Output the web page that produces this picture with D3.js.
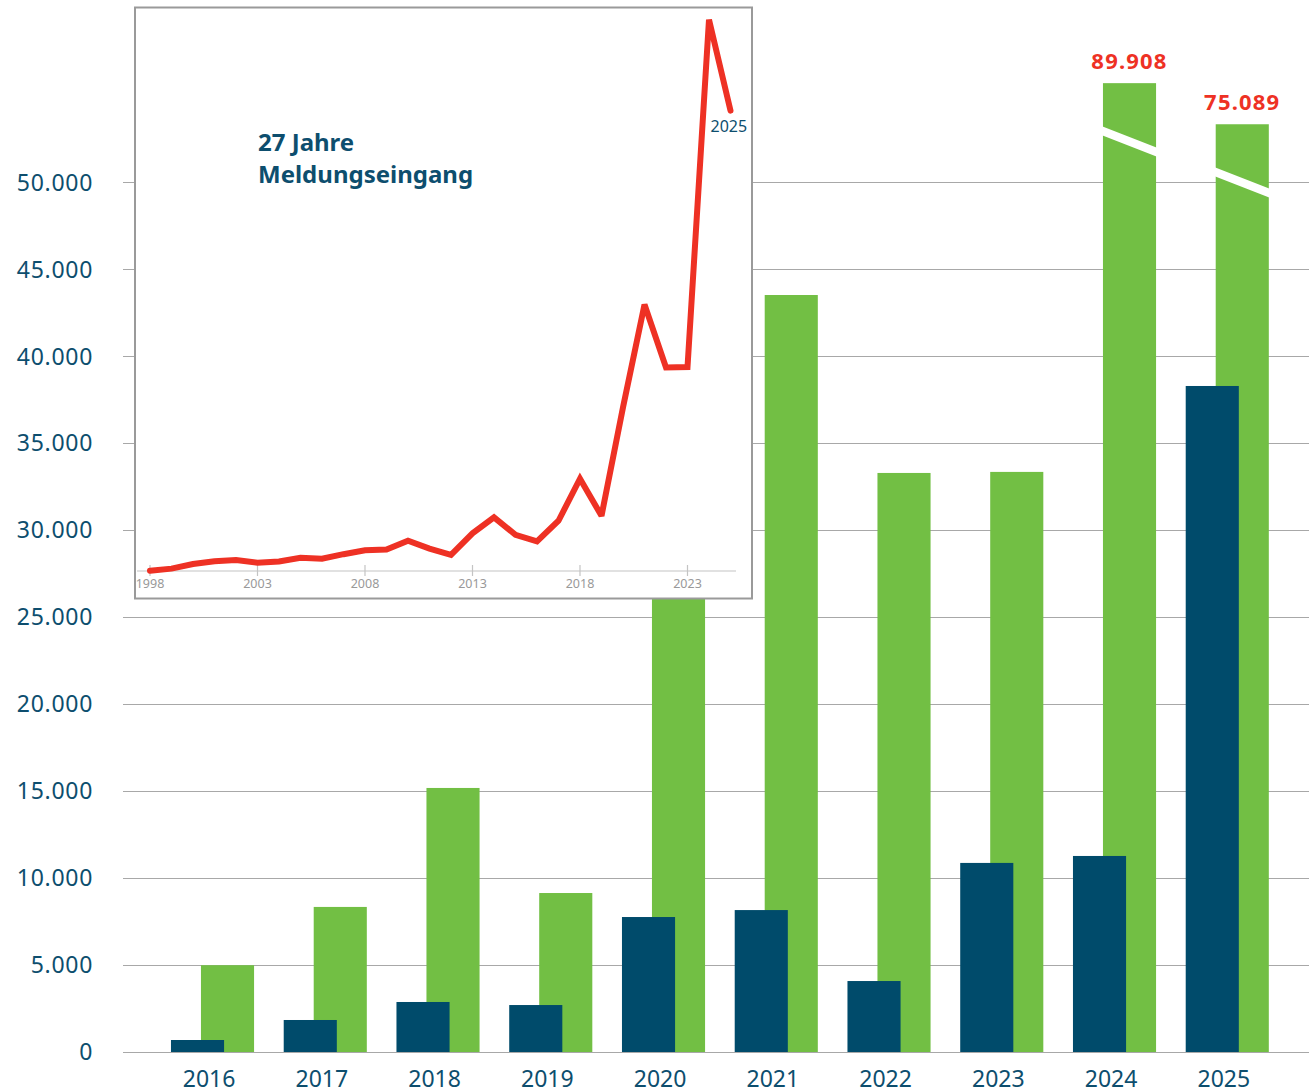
<!DOCTYPE html>
<html>
<head>
<meta charset="utf-8">
<script src="https://cdn.jsdelivr.net/npm/d3@7"></script>
<style>
  html, body { margin: 0; padding: 0; background: #fff; }
  svg { display: block; }
</style>
</head>
<body>
<svg id="chart" width="1309" height="1092"></svg>
<script>
// ---------- data ----------
const years = [2016, 2017, 2018, 2019, 2020, 2021, 2022, 2023, 2024, 2025];
const darkValues = [690, 1840, 2875, 2700, 7760, 8160, 4080, 10870, 11270, 38290];
const greenValues = [4990, 8340, 15180, 9140, 26800, 43520, 33290, 33350, 89908, 75089];
const yTicks = [0, 5000, 10000, 15000, 20000, 25000, 30000, 35000, 40000, 45000, 50000];
const brokenYears = [2024, 2025];

const insetYears = d3.range(1998, 2026);
const insetValues = [200, 550, 1300, 1750, 1950, 1500, 1700, 2300, 2150, 2900,
                     3550, 3650, 5100, 3800, 2800, 6300, 8900, 6050, 4990, 8340,
                     15180, 9140, 26800, 43520, 33290, 33350, 89908, 75089];
const insetTicks = [1998, 2003, 2008, 2013, 2018, 2023];
const insetTitle = ["27 Jahre", "Meldungseingang"];
const insetEndLabel = "2025";

// ---------- styles ----------
const C_DARK = "#004B6B", C_GREEN = "#72BF44", C_RED = "#EE3124",
      C_TEXT = "#0D4E6E", C_GRID = "#A8A8A8";
const FONT = "'Noto Sans', 'Open Sans', sans-serif";

const de = d3.formatLocale({decimal: ",", thousands: ".", grouping: [3], currency: ["", "€"]});
const fmt = de.format(",");

const svg = d3.select("#chart");

// ---------- main scales ----------
const x = d3.scaleBand().domain(years).range([152.7, 1280.2]).padding(0);
const bw = x.bandwidth();
const barW = bw * 0.471;
const darkOff = bw * 0.162;
const greenOff = bw * 0.428;
// broken axis: linear up to 50.000, compressed above
const y = d3.scaleLinear().domain([0, 50000, 75000, 90000]).range([1052, 182.3, 124.5, 82.9]);

// gridlines + y labels
const grid = svg.append("g");
grid.selectAll("line").data(yTicks).join("line")
  .attr("x1", 123).attr("x2", 1309)
  .attr("y1", d => Math.round(y(d)) + 0.5).attr("y2", d => Math.round(y(d)) + 0.5)
  .attr("stroke", C_GRID).attr("stroke-width", 1.2);
grid.selectAll("text").data(yTicks).join("text")
  .attr("x", 93).attr("y", d => y(d)).attr("dy", "0.36em")
  .attr("text-anchor", "end")
  .style("font-family", FONT).style("font-size", "23px").style("letter-spacing", "0.7px")
  .attr("fill", C_TEXT).text(d => fmt(d));

// green bars
svg.append("g").selectAll("rect").data(years).join("rect")
  .attr("x", (d) => x(d) + greenOff).attr("width", barW)
  .attr("y", (d, i) => y(greenValues[i]))
  .attr("height", (d, i) => y(0) - y(greenValues[i]))
  .attr("fill", C_GREEN);

// dark bars
svg.append("g").selectAll("rect").data(years).join("rect")
  .attr("x", (d) => x(d) + darkOff).attr("width", barW)
  .attr("y", (d, i) => y(darkValues[i]))
  .attr("height", (d, i) => y(0) - y(darkValues[i]))
  .attr("fill", C_DARK);

// break marks on broken bars
const brk = svg.append("g");
brokenYears.forEach(yr => {
  const i = years.indexOf(yr);
  const top = y(greenValues[i]);
  const x0 = x(yr) + greenOff - 1, x1 = x(yr) + greenOff + barW + 1;
  brk.append("polygon")
    .attr("points", [[x0, top + 43], [x1, top + 64.5], [x1, top + 73.5], [x0, top + 52]].map(p => p.join(",")).join(" "))
    .attr("fill", "#fff");
  brk.append("text")
    .attr("x", x(yr) + greenOff + barW / 2).attr("y", top - 14.5)
    .attr("text-anchor", "middle")
    .style("font-family", FONT).style("font-size", "22px").style("font-weight", "700")
    .style("letter-spacing", "1.2px")
    .attr("fill", C_RED).text(fmt(greenValues[i]));
});

// x labels
svg.append("g").selectAll("text").data(years).join("text")
  .attr("x", d => x(d) + bw / 2).attr("y", 1086.5)
  .attr("text-anchor", "middle")
  .style("font-family", FONT).style("font-size", "23px")
  .attr("fill", C_TEXT).text(d => d);

// ---------- inset ----------
const inset = svg.append("g");
inset.append("rect")
  .attr("x", 135).attr("y", 7.5).attr("width", 617).attr("height", 591)
  .attr("fill", "#fff").attr("stroke", "#9A9A9A").attr("stroke-width", 2);

const ix = d3.scaleLinear().domain([1998, 2025]).range([150, 730.5]);
const iy = d3.scaleLinear().domain([0, 90000]).range([572, 19]);

inset.append("line")
  .attr("x1", 137).attr("x2", 736).attr("y1", 571).attr("y2", 571)
  .attr("stroke", "#C4C4C4").attr("stroke-width", 1.2);
inset.selectAll(".tk").data(insetTicks).join("line").attr("class", "tk")
  .attr("x1", d => ix(d)).attr("x2", d => ix(d)).attr("y1", 565).attr("y2", 576)
  .attr("stroke", "#C4C4C4").attr("stroke-width", 1.2);
inset.selectAll(".tl").data(insetTicks).join("text").attr("class", "tl")
  .attr("x", d => ix(d)).attr("y", 588)
  .attr("text-anchor", "middle")
  .style("font-family", FONT).style("font-size", "12.5px")
  .attr("fill", "#999").text(d => d);

inset.append("path")
  .datum(insetValues)
  .attr("d", d3.line().x((d, i) => ix(insetYears[i])).y(d => iy(d)))
  .attr("fill", "none").attr("stroke", C_RED).attr("stroke-width", 6)
  .attr("stroke-linejoin", "miter").attr("stroke-miterlimit", 2.5).attr("stroke-linecap", "round");

inset.append("text")
  .attr("x", ix(2025) - 20).attr("y", 131.5)
  .style("font-family", FONT).style("font-size", "16px")
  .attr("fill", C_TEXT).text(insetEndLabel);

inset.selectAll(".tt").data(insetTitle).join("text").attr("class", "tt")
  .attr("x", 258).attr("y", (d, i) => 151 + i * 31.5)
  .style("font-family", FONT).style("font-size", "24px").style("font-weight", "700")
  .attr("fill", C_TEXT).text(d => d);
</script>
</body>
</html>
